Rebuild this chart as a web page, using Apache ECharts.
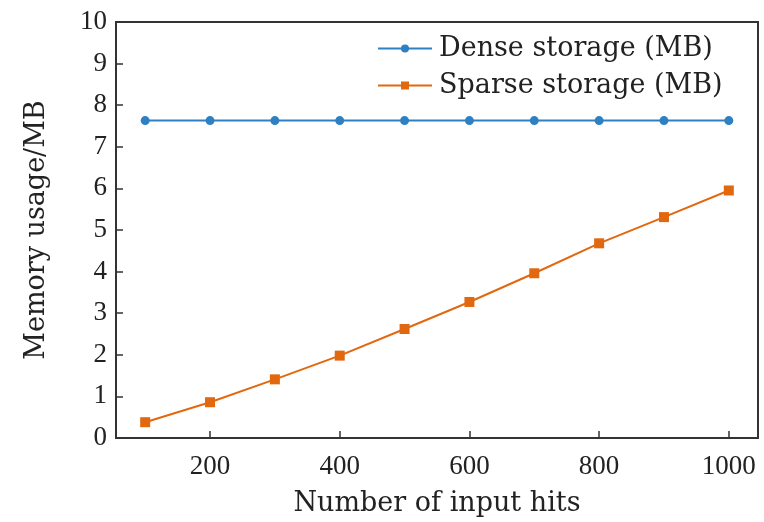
<!DOCTYPE html>
<html>
<head>
<meta charset="utf-8">
<script src="https://cdn.jsdelivr.net/npm/echarts@6/dist/echarts.min.js"></script>
<style>
  html, body { margin: 0; padding: 0; background: #fff; }
  #chart { width: 764px; height: 522px; }
</style>
</head>
<body>
<div id="chart"></div>
<script>
// Number of input hits
const hits = [100, 200, 300, 400, 500, 600, 700, 800, 900, 1000];
// Memory footprint in MB
const denseMB = [7.63, 7.63, 7.63, 7.63, 7.63, 7.63, 7.63, 7.63, 7.63, 7.63];
const sparseMB = [0.38, 0.86, 1.41, 1.98, 2.62, 3.27, 3.96, 4.68, 5.31, 5.95];
const xTicks = [200, 400, 600, 800, 1000];
const yTicks = [0, 1, 2, 3, 4, 5, 6, 7, 8, 9, 10];

const NUM_FONT = 'Liberation Serif';
const TEXT_FONT = 'DejaVu Serif';
const INK = '#333';
const TEXT = '#222';
const BLUE = '#2f80c2';
const ORANGE = '#e2680f';

const pairs = (xs, ys) => xs.map((x, i) => [x, ys[i]]);

const chart = echarts.init(document.getElementById('chart'), null, { renderer: 'canvas' });
chart.setOption({
  animation: false,
  backgroundColor: '#fff',
  textStyle: { fontFamily: TEXT_FONT },
  grid: {
    left: 116, right: 6, top: 22, bottom: 81,
    show: true, borderColor: INK, borderWidth: 2, backgroundColor: 'transparent'
  },
  legend: {
    orient: 'vertical',
    left: 372, top: 29,
    itemWidth: 54, itemHeight: 10, itemGap: 8,
    textStyle: { fontFamily: TEXT_FONT, fontSize: 27, lineHeight: 29, color: TEXT, padding: [0, 0, 0, 2] },
    data: ['Dense storage (MB)', 'Sparse storage (MB)']
  },
  xAxis: {
    type: 'value', min: 55, max: 1045,
    name: 'Number of input hits', nameLocation: 'middle', nameGap: 52,
    nameTextStyle: { fontFamily: TEXT_FONT, fontSize: 27, color: TEXT },
    axisLine: { lineStyle: { color: INK, width: 2 } },
    axisTick: { inside: true, length: 7, lineStyle: { color: INK, width: 1.5 }, customValues: xTicks },
    axisLabel: {
      fontFamily: NUM_FONT, fontSize: 27, color: TEXT, margin: 15, customValues: xTicks,
      formatter: v => String(v)
    },
    splitLine: { show: false }
  },
  yAxis: {
    type: 'value', min: 0, max: 10, interval: 1,
    name: 'Memory usage/MB', nameLocation: 'middle', nameGap: 66, nameRotate: 90,
    nameTextStyle: { fontFamily: TEXT_FONT, fontSize: 27, color: TEXT },
    axisLine: { lineStyle: { color: INK, width: 2 } },
    axisTick: { inside: true, length: 7, lineStyle: { color: INK, width: 1.5 }, customValues: yTicks },
    axisLabel: { fontFamily: NUM_FONT, fontSize: 27, color: TEXT, margin: 9, customValues: yTicks },
    splitLine: { show: false }
  },
  series: [
    {
      name: 'Dense storage (MB)', type: 'line',
      data: pairs(hits, denseMB),
      symbol: 'circle', symbolSize: 9,
      lineStyle: { color: BLUE, width: 2 },
      itemStyle: { color: BLUE }
    },
    {
      name: 'Sparse storage (MB)', type: 'line',
      data: pairs(hits, sparseMB),
      symbol: 'rect', symbolSize: 10,
      lineStyle: { color: ORANGE, width: 2 },
      itemStyle: { color: ORANGE }
    }
  ]
});
</script>
</body>
</html>
